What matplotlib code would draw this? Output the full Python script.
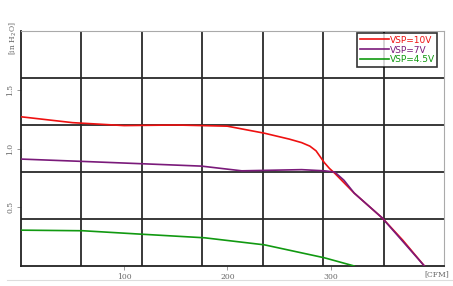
import numpy as np
import matplotlib
matplotlib.use("Agg")
import matplotlib.pyplot as plt
from matplotlib.lines import Line2D

# airflow [CFM] vs static pressure [in H2O]
red_x = [0, 50, 100, 150, 200, 236, 260, 272, 280, 286, 290, 294, 299, 304, 323, 350, 370, 391]
red_y = [1.27, 1.22, 1.195, 1.20, 1.19, 1.13, 1.08, 1.05, 1.02, 0.98, 0.93, 0.88, 0.83, 0.79, 0.62, 0.41, 0.22, 0.0]

purple_x = [0, 60, 118, 175, 214, 272, 294, 304, 313, 323, 350, 370, 391]
purple_y = [0.91, 0.89, 0.87, 0.85, 0.81, 0.82, 0.81, 0.80, 0.73, 0.62, 0.41, 0.21, 0.0]

green_x = [0, 60, 118, 178, 236, 294, 323]
green_y = [0.305, 0.30, 0.27, 0.24, 0.18, 0.07, 0.0]

labels = ["VSP=10V", "VSP=7V", "VSP=4.5V"]
colors = ["#ee1111", "#7a1a7a", "#119911"]

xmax = 410
ymax = 2.0

fig = plt.figure(figsize=(4.53, 2.86), dpi=100)
ax = fig.add_axes([21/453, 1-266/286, (444-21)/453, (266-31)/286])

for gx in np.linspace(0, xmax, 8)[1:-1]:
    ax.axvline(gx, color="#2a2a2a", lw=1.3, zorder=1)
for gy in np.linspace(0, ymax, 6)[1:-1]:
    ax.axhline(gy, color="#2a2a2a", lw=1.3, zorder=1)

ax.plot(red_x, red_y, color=colors[0], lw=1.2, label=labels[0], zorder=3)
ax.plot(purple_x, purple_y, color=colors[1], lw=1.2, label=labels[1], zorder=3)
ax.plot(green_x, green_y, color=colors[2], lw=1.2, label=labels[2], zorder=3)

ax.set_xlim(0, xmax)
ax.set_ylim(0, ymax)
ax.set_xticks([100, 200, 300])
ax.set_yticks([0.5, 1.0, 1.5])
ax.set_xticklabels(["100", "200", "300"])
ax.set_yticklabels(["0.5", "1.0", "1.5"], rotation=90, va="center")
ax.tick_params(axis="both", length=3, width=0.6, color="#888888",
               labelsize=5.5, labelcolor="#666666", pad=2)
for t in ax.get_xticklabels() + ax.get_yticklabels():
    t.set_family("DejaVu Serif")

ax.spines["left"].set_color("#222222")
ax.spines["bottom"].set_color("#222222")
ax.spines["left"].set_linewidth(1.3)
ax.spines["bottom"].set_linewidth(1.3)
ax.spines["top"].set_color("#aaaaaa")
ax.spines["right"].set_color("#aaaaaa")

leg = ax.legend(loc="upper right", bbox_to_anchor=(0.983, 0.99), fontsize=6.5,
                frameon=True, fancybox=False, handlelength=3.2, handletextpad=0.1,
                borderpad=0.25, labelspacing=0.1, borderaxespad=0)
leg.get_frame().set_edgecolor("black")
leg.get_frame().set_linewidth(1.2)
for txt, c in zip(leg.get_texts(), colors):
    txt.set_color(c)

fig.text(13/453, 1-38/286, "[in H$_2$O]", rotation=90, fontsize=5.5, color="#666666",
         family="DejaVu Serif", ha="center", va="center")
fig.text(437/453, 1-274/286, "[CFM]", fontsize=5.5, color="#666666",
         family="DejaVu Serif", ha="center", va="center")
fig.add_artist(Line2D([7/453, 1.0], [1-280/286, 1-280/286], color="#dddddd", lw=0.8))

fig.savefig("out.png", dpi=100)
